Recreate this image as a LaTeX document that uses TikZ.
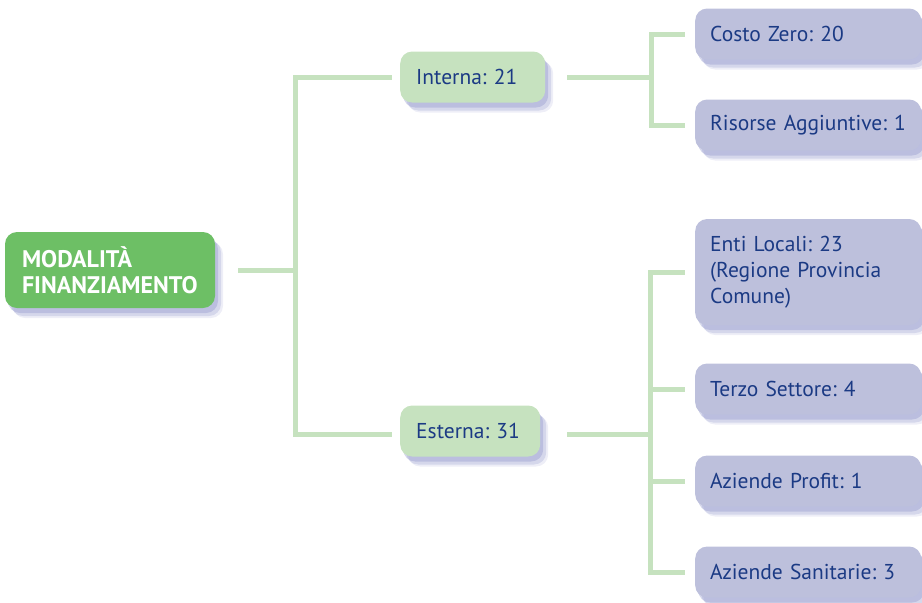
\documentclass[tikz,border=0pt]{standalone}
\usepackage{xcolor}
\usepackage{fontspec}
\setmainfont{PT Sans}
\usepackage{tikz}
\usetikzlibrary{shadows}

\definecolor{rootgreen}{HTML}{6DBF65}
\definecolor{midgreen}{HTML}{C6E2BF}
\definecolor{leafblue}{HTML}{BDC0DC}
\definecolor{textblue}{HTML}{1B3A84}
\definecolor{shadowblue}{HTML}{8A90C8}

\tikzset{
  boxshadow/.style={
    drop shadow={shadow xshift=8pt,shadow yshift=-10pt,fill=shadowblue,opacity=0.15},
    drop shadow={shadow xshift=6pt,shadow yshift=-8pt,fill=shadowblue,opacity=0.25},
    drop shadow={shadow xshift=3pt,shadow yshift=-5pt,fill=shadowblue,opacity=0.35}},
  rootbox/.style={rounded corners=12pt,fill=rootgreen,boxshadow,text=white,font=\fontsize{24}{26}\selectfont\bfseries,
    align=left,text width=176pt,inner xsep=17pt,minimum width=210pt,minimum height=76pt},
  midbox/.style={rounded corners=12pt,fill=midgreen,boxshadow,text=textblue,font=\fontsize{21.5}{26}\selectfont,
    align=left,inner xsep=16pt,minimum height=51pt,anchor=west},
  leafbox/.style={rounded corners=12pt,fill=leafblue,boxshadow,text=textblue,font=\fontsize{21.5}{26}\selectfont,
    align=left,text width=196pt,inner xsep=15pt,minimum height=51pt,anchor=west},
  link/.style={draw=midgreen,line width=5pt}
}

\begin{document}
\frenchspacing
\begin{tikzpicture}[x=1pt,y=-1pt]
	 \useasboundingbox (0,0) rectangle (922,603);
	 % first level
	 \node[rootbox] (root) at (110,270) {MODALITÀ\\FINANZIAMENTO};
	 \node[midbox,text width=113pt] (int) at (400,77) {Interna: 21};
	 \node[midbox,text width=108pt] (ext) at (400,431) {Esterna: 31};
	 % leaves of Interna
	 \node[leafbox] (zero) at (695,34) {Costo Zero: 20};
	 \node[leafbox] (agg) at (695,125) {Risorse Aggiuntive: 1};
	 % leaves of Esterna
	 \node[leafbox,minimum height=106pt] (enti) at (695,272) {Enti Locali: 23\\(Regione Provincia\\Comune)};
	 \node[leafbox] (terzo) at (695,389) {Terzo Settore: 4};
	 \node[leafbox] (profit) at (695,481) {Aziende Profit: 1};
	 \node[leafbox] (sanit) at (695,572) {Aziende Sanitarie: 3};
	 % junctions
	 \coordinate (j0) at (295,270);
	 \coordinate (j1) at (651,77);
	 \coordinate (j2) at (650,434);
	 \draw[link] ([xshift=23pt]root.east) -- (j0);
	 \draw[link] (j0) |- ([xshift=-8pt]int.west);
	 \draw[link] (j0) |- ([xshift=-8pt,yshift=-3pt]ext.west);
	 \draw[link] ([xshift=22pt]int.east) -- (j1);
	 \draw[link] (j1) |- ([xshift=-10pt]zero.west);
	 \draw[link] (j1) |- ([xshift=-10pt]agg.west);
	 \draw[link] ([xshift=27pt,yshift=-3pt]ext.east) -- (j2);
	 \draw[link] (j2) |- ([xshift=-10pt]enti.west);
	 \draw[link] (j2) |- ([xshift=-10pt]terzo.west);
	 \draw[link] (j2) |- ([xshift=-10pt]profit.west);
	 \draw[link] (j2) |- ([xshift=-10pt]sanit.west);
\end{tikzpicture}
\end{document}
